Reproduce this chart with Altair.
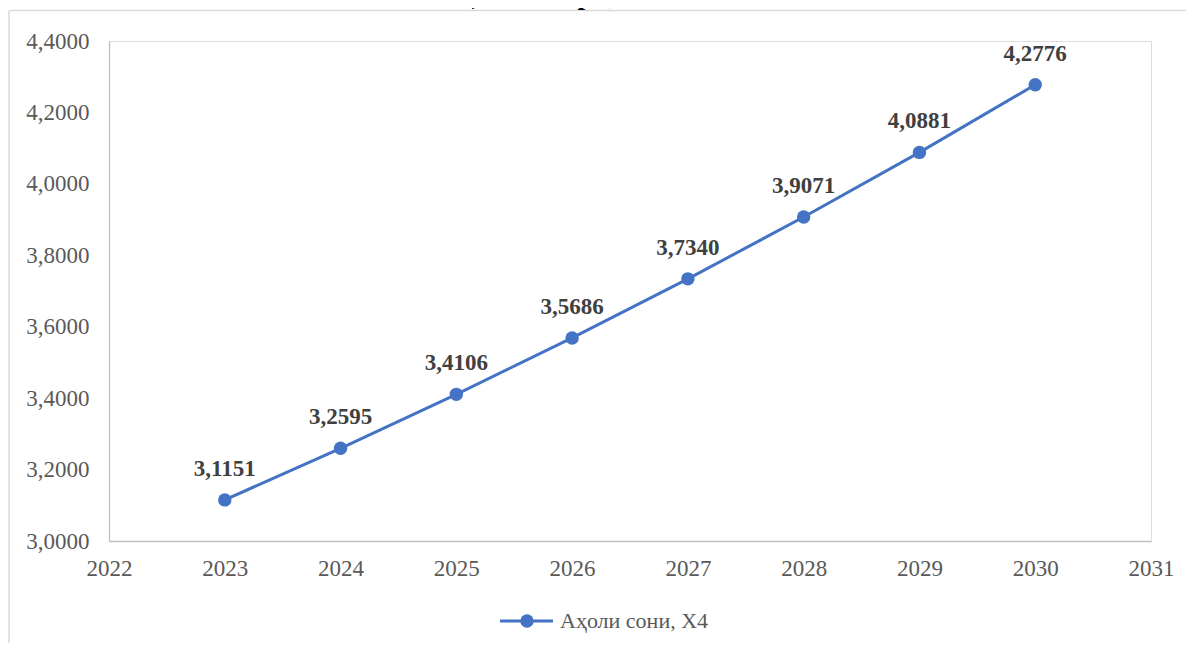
import altair as alt
import pandas as pd

years = [2023, 2024, 2025, 2026, 2027, 2028, 2029, 2030]
values = [3.1151, 3.2595, 3.4106, 3.5686, 3.7340, 3.9071, 4.0881, 4.2776]
series_name = "Аҳоли сони, Х4"
title_text = "қийматлари, млн. киши"
x_ticks = [2022, 2023, 2024, 2025, 2026, 2027, 2028, 2029, 2030, 2031]
y_ticks = [3.0, 3.2, 3.4, 3.6, 3.8, 4.0, 4.2, 4.4]

BLUE = "#4472C4"
FONT = "Liberation Serif"

df = pd.DataFrame({"year": years, "value": values})

x_enc = alt.X("year:Q", scale=alt.Scale(domain=[2022, 2031], nice=False, zero=False),
              axis=alt.Axis(values=x_ticks, format="d", title=None, grid=False, ticks=False,
                            labelFlush=False, labelOverlap=False,
                            domainColor="#bfbfbf", domainWidth=1.3, labelFont=FONT, labelFontSize=23,
                            labelColor="#595959", labelPadding=16))
y_enc = alt.Y("value:Q", scale=alt.Scale(domain=[3.0, 4.4], nice=False, zero=False),
              axis=alt.Axis(values=y_ticks, title=None, grid=False, ticks=False,
                            labelFlush=False, labelOverlap=False,
                            domainColor="#bfbfbf", domainWidth=1.3, labelFont=FONT, labelFontSize=23,
                            labelColor="#595959", labelPadding=20,
                            labelExpr="replace(format(datum.value, '.4f'), '.', ',')"))

base = alt.Chart(df)
one = base.transform_filter("datum.year == 2023")

frame_top = one.mark_rule(color="#d9d9d9", strokeWidth=1.5).encode(
    x=alt.value(-100), x2=alt.value(1077), y=alt.value(-30.5)
)
frame_left = one.mark_rule(color="#d9d9d9", strokeWidth=1.5).encode(
    x=alt.value(-100), y=alt.value(-30.5), y2=alt.value(602)
)

title = one.mark_text(font=FONT, fontSize=27, fontWeight="bold", color="#000000",
                      baseline="alphabetic", align="center").encode(
    x=alt.value(497), y=alt.value(-37.5), text=alt.value(title_text)
)

line = base.mark_line(color=BLUE, strokeWidth=3).encode(x=x_enc, y=y_enc)
points = base.mark_circle(color=BLUE, size=180, opacity=1).encode(x="year:Q", y="value:Q")
labels = base.mark_text(font=FONT, fontSize=23, fontWeight="bold", color="#404040",
                        baseline="alphabetic", dy=-24).encode(
    x="year:Q", y="value:Q", text="label:N"
).transform_calculate(label="replace(format(datum.value, '.4f'), '.', ',')")

legend_line = one.mark_rule(color=BLUE, strokeWidth=3).encode(
    x=alt.value(391), x2=alt.value(444), y=alt.value(580)
)
legend_pt = one.mark_circle(color=BLUE, size=180, opacity=1).encode(
    x=alt.value(418), y=alt.value(580)
)
legend_text = one.mark_text(font=FONT, fontSize=22, color="#595959", align="left",
                            baseline="middle").encode(
    x=alt.value(451), y=alt.value(580), text=alt.value(series_name)
)

chart = alt.layer(frame_top, frame_left, title, line, points, labels,
                  legend_line, legend_pt, legend_text).properties(
    width=1042, height=500,
    autosize=alt.AutoSizeParams(type="none"),
    padding={"left": 101, "top": 33, "right": 35, "bottom": 102},
).configure_view(stroke=None).configure(background="#ffffff")

chart.save("out.html", embed_options={"renderer": "svg", "actions": False})
